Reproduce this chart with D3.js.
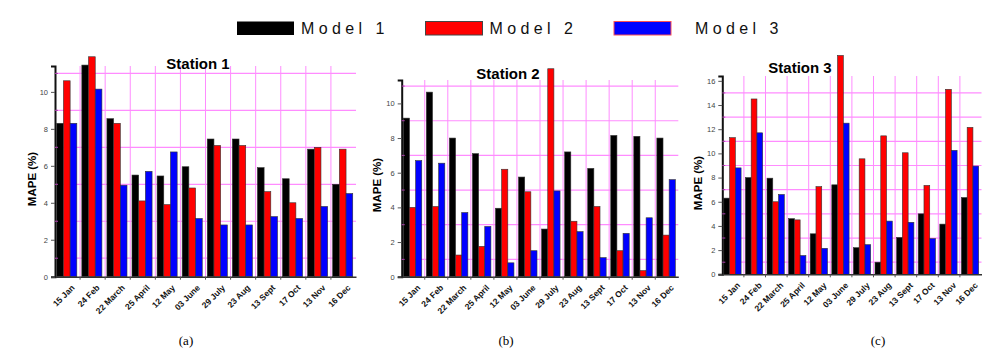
<!DOCTYPE html>
<html>
<head>
<meta charset="utf-8">
<script src="https://cdn.jsdelivr.net/npm/d3@7"></script>
<style>
    body { margin: 0; background: #fff; }
    svg text { font-family: "Liberation Sans", Arial, sans-serif; }
    .caption { font-family: "Liberation Serif", "Times New Roman", serif !important; font-size: 13px; }
    .tick-y { font-size: 7.5px; fill: #444; }
    .tick-x { font-size: 8.5px; font-weight: bold; fill: #111; }
</style>
</head>
<body>
<div id="chart"></div>
<script>
var width = 997;
var height = 360;

// data
var categories = ["15 Jan", "24 Feb", "22 March", "25 April", "12 May", "03 June",
    "29 July", "23 Aug", "13 Sept", "17 Oct", "13 Nov", "16 Dec"];
var models = ["Model 1", "Model 2", "Model 3"];
var stations = ["Station 1", "Station 2", "Station 3"];
var captions = ["(a)", "(b)", "(c)"];

var station1Model1 = [8.3, 11.45, 8.55, 5.5, 5.45, 5.95, 7.45, 7.45, 5.9, 5.3, 6.9, 5.0];
var station1Model2 = [10.6, 11.9, 8.3, 4.1, 3.9, 4.8, 7.1, 7.1, 4.6, 4.0, 7.0, 6.9];
var station1Model3 = [8.3, 10.15, 4.95, 5.7, 6.75, 3.15, 2.8, 2.8, 3.25, 3.15, 3.8, 4.5];

var station2Model1 = [9.15, 10.65, 8.0, 7.1, 3.95, 5.75, 2.75, 7.2, 6.25, 8.15, 8.1, 8.0];
var station2Model2 = [4.0, 4.05, 1.25, 1.75, 6.2, 4.9, 12.0, 3.2, 4.05, 1.5, 0.35, 2.4];
var station2Model3 = [6.7, 6.55, 3.7, 2.9, 0.8, 1.5, 4.95, 2.6, 1.1, 2.5, 3.4, 5.6];

var station3Model1 = [6.3, 8.0, 7.95, 4.6, 3.35, 7.4, 2.2, 1.0, 3.05, 5.0, 4.15, 6.35];
var station3Model2 = [11.3, 14.5, 6.0, 4.5, 7.25, 18.1, 9.55, 11.45, 10.05, 7.35, 15.3, 12.15];
var station3Model3 = [8.8, 11.7, 6.6, 1.55, 2.15, 12.5, 2.45, 4.4, 4.3, 2.95, 10.25, 8.95];

// top of each y axis
var yMax = [11.4, 11.35, 16.4];

var series = [
    [station1Model1, station1Model2, station1Model3],
    [station2Model1, station2Model2, station2Model3],
    [station3Model1, station3Model2, station3Model3]
];

var color = d3.scaleOrdinal()
    .domain(models)
    .range(["#000000", "#ff0000", "#0000ff"]);

// panel frames in page pixels
var panels = [
    { left: 55, right: 356, bottom: 276.7, top: 66, titleX: 198, titleY: 69, labelX: 32, labelY: 179, capX: 186 },
    { left: 401.7, right: 678.3, bottom: 276.7, top: 80, titleX: 508, titleY: 79, labelX: 377, labelY: 185, capX: 506 },
    { left: 722.3, right: 981.5, bottom: 274.3, top: 76, titleX: 800, titleY: 72.5, labelX: 698, labelY: 183, capX: 878 }
];

var svg = d3.select("#chart")
    .append("svg")
    .attr("width", width)
    .attr("height", height)
    ;

// legend
var glegend = svg.selectAll(".legend")
    .data(models)
    .join("g")
    .attr("class", "legend")
    .attr("transform", (d, i) => `translate(${237 + i * 188.5},21.5)`);

glegend.append("rect")
    .attr("width", 57)
    .attr("height", 13.5)
    .style("fill", d => color(d))
    .style("stroke", (d, i) => i === 0 ? "none" : (i === 1 ? "#444" : "#ff5050"))
    .style("stroke-width", 1)
    ;
glegend.append("text")
    .attr("x", (d, i) => i === 2 ? 81 : 64)
    .attr("y", 12.5)
    .style("font-size", "16px")
    .style("letter-spacing", "4.4px")
    .style("fill", "#111")
    .text(d => d);

panels.forEach(function (p, k) {
    var g = svg.append("g").attr("class", "panel");

    var x0 = d3.scaleBand()
        .domain(categories)
        .range([p.left, p.right])
        .padding(0);

    var x1 = d3.scaleBand()
        .domain(models)
        .range([0, x0.bandwidth()])
        .paddingOuter(0.375)
        .align(0.35);

    var y = d3.scaleLinear()
        .domain([0, yMax[k]])
        .range([p.bottom, p.top]);

    var oddTicks = d3.range(1, yMax[k], 2);
    var evenTicks = d3.range(0, yMax[k], 2);

    // grid
    g.append("g")
        .selectAll("line")
        .data(oddTicks)
        .join("line")
        .attr("x1", p.left)
        .attr("x2", p.right)
        .attr("y1", d => y(d))
        .attr("y2", d => y(d))
        .style("stroke", "#ff8cff")
        .style("stroke-width", 1.2);

    g.append("g")
        .selectAll("line")
        .data(categories.slice(1))
        .join("line")
        .attr("x1", d => x0(d))
        .attr("x2", d => x0(d))
        .attr("y1", p.bottom)
        .attr("y2", p.top)
        .style("stroke", "#ff8cff")
        .style("stroke-width", 1);

    // bars
    var rows = categories.map(function (c, i) {
        return { cat: c, values: models.map((m, j) => ({ model: m, value: series[k][j][i] })) };
    });

    g.append("g")
        .selectAll("g")
        .data(rows)
        .join("g")
        .attr("transform", d => "translate(" + x0(d.cat) + ",0)")
        .selectAll("rect")
        .data(d => d.values)
        .join("rect")
        .attr("x", d => x1(d.model))
        .attr("y", d => y(d.value))
        .attr("width", x1.bandwidth())
        .attr("height", d => p.bottom - y(d.value))
        .style("fill", d => color(d.model))
        .style("stroke", "#333")
        .style("stroke-width", 0.6);

    // y axis
    var yAxis = d3.axisLeft(y)
        .tickValues(evenTicks)
        .tickSize(4)
        .tickPadding(3)
        .tickFormat(d3.format("d"));

    var ya = g.append("g")
        .attr("class", "y axis")
        .attr("transform", "translate(" + p.left + ",0)")
        .call(yAxis);
    ya.select(".domain").style("stroke", "#111").style("stroke-width", 2);
    ya.selectAll(".tick line").style("stroke", "#555");
    ya.selectAll(".tick text").attr("class", "tick-y").style("font-family", null);

    g.append("g")
        .selectAll("line")
        .data(oddTicks)
        .join("line")
        .attr("x1", p.left)
        .attr("x2", p.left + 3)
        .attr("y1", d => y(d))
        .attr("y2", d => y(d))
        .style("stroke", "#b040b0")
        .style("stroke-width", 1);

    // x axis
    var xAxis = d3.axisBottom(x0)
        .tickSize(0)
        .tickPadding(5);

    var xa = g.append("g")
        .attr("class", "x axis")
        .attr("transform", "translate(0," + p.bottom + ")")
        .call(xAxis);
    xa.select(".domain").style("stroke", "#333").style("stroke-width", 1.5);
    xa.selectAll(".tick text")
        .attr("class", "tick-x")
        .style("font-family", null)
        .attr("text-anchor", "end")
        .attr("dy", "0.35em")
        .attr("transform", "translate(2,6) rotate(-45)");

    g.append("g")
        .selectAll("line")
        .data(categories.slice(1))
        .join("line")
        .attr("x1", d => x0(d))
        .attr("x2", d => x0(d))
        .attr("y1", p.bottom)
        .attr("y2", p.bottom + 3)
        .style("stroke", "#555");

    // title
    g.append("text")
        .attr("x", p.titleX)
        .attr("y", p.titleY)
        .attr("text-anchor", "middle")
        .style("font-size", "15px")
        .style("font-weight", "bold")
        .text(stations[k]);

    // y label
    g.append("text")
        .attr("transform", "translate(" + p.labelX + "," + p.labelY + ") rotate(-90)")
        .attr("text-anchor", "middle")
        .attr("dy", "0.35em")
        .style("font-size", "11.5px")
        .style("font-weight", "bold")
        .text("MAPE (%)");

    // caption
    g.append("text")
        .attr("class", "caption")
        .attr("x", p.capX)
        .attr("y", 345)
        .attr("text-anchor", "middle")
        .text(captions[k]);
});
</script>
</body>
</html>
